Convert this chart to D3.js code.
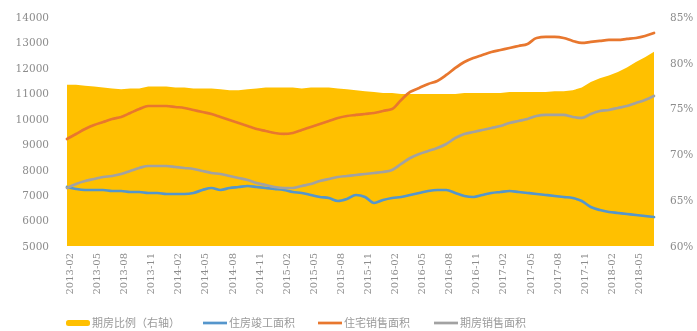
<!DOCTYPE html>
<html>
<head>
<meta charset="utf-8">
<script src="https://cdn.jsdelivr.net/npm/d3@7"></script>
<style>
  html, body { margin: 0; padding: 0; background: #fff; }
  svg { display: block; }
</style>
</head>
<body>
<svg id="chart" width="697" height="331"></svg>
<script>
// Monthly series, 2013-02 through 2018-07
const startMonth = new Date(Date.UTC(2013, 1, 1));
const endMonth = new Date(Date.UTC(2018, 7, 1));
const months = d3.utcMonth.range(startMonth, endMonth).map(d3.utcFormat("%Y-%m"));

const tickLabels = [
  "2013-02","2013-05","2013-08","2013-11","2014-02","2014-05","2014-08","2014-11",
  "2015-02","2015-05","2015-08","2015-11","2016-02","2016-05","2016-08","2016-11",
  "2017-02","2017-05","2017-08","2017-11","2018-02","2018-05"
];

// 期房比例 (%) — right axis
const futuresShare = [
  77.6,77.6,77.5,77.4,77.3,77.2,77.1,77.2,77.2,77.4,
  77.4,77.4,77.3,77.3,77.2,77.2,77.2,77.1,77.0,77.0,
  77.1,77.2,77.3,77.3,77.3,77.3,77.2,77.3,77.3,77.3,
  77.2,77.1,77.0,76.9,76.8,76.7,76.7,76.6,76.6,76.6,
  76.6,76.6,76.6,76.6,76.7,76.7,76.7,76.7,76.7,76.8,
  76.8,76.8,76.8,76.8,76.9,76.9,77.0,77.3,77.9,78.3,
  78.6,79.0,79.5,80.1,80.6,81.2
];

// 住房竣工面积
const completedArea = [
  7319,7241,7201,7201,7201,7162,7162,7123,7123,7083,
  7083,7044,7044,7044,7083,7201,7280,7201,7280,7319,
  7359,7319,7280,7241,7201,7123,7083,7005,6926,6887,
  6769,6848,7005,6926,6690,6808,6887,6926,7005,7083,
  7162,7201,7201,7083,6966,6926,7005,7083,7123,7162,
  7123,7083,7044,7005,6966,6926,6887,6769,6533,6415,
  6337,6297,6258,6219,6179,6140
];

// 住宅销售面积
const salesArea = [
  9206,9403,9599,9757,9874,9992,10071,10228,10385,10503,
  10503,10503,10464,10425,10346,10268,10189,10071,9953,9835,
  9717,9599,9521,9442,9403,9442,9560,9678,9796,9914,
  10032,10110,10150,10189,10228,10307,10385,10739,11054,11211,
  11368,11486,11722,11997,12233,12390,12508,12626,12705,12783,
  12862,12941,13176,13216,13216,13176,13059,12980,13019,13059,
  13098,13098,13137,13176,13255,13373
];

// 期房销售面积
const futuresSales = [
  7280,7437,7555,7634,7712,7752,7830,7948,8066,8145,
  8145,8145,8105,8066,8027,7948,7870,7830,7752,7673,
  7594,7477,7398,7319,7280,7280,7359,7437,7555,7634,
  7712,7752,7791,7830,7870,7909,7988,8223,8459,8617,
  8734,8852,9010,9245,9403,9481,9560,9639,9717,9835,
  9914,9992,10110,10150,10150,10150,10071,10032,10189,10307,
  10346,10425,10503,10621,10739,10897
];

const leftTicks = [5000,6000,7000,8000,9000,10000,11000,12000,13000,14000];
const rightTicks = [60,65,70,75,80,85];

const colors = {
  share: "#FFC000",
  completed: "#5496CC",
  sales: "#E8772E",
  futures: "#A2A2A2"
};

const svg = d3.select("#chart");

// soft focus over the whole drawing
const defs = svg.append("defs");
defs.append("filter").attr("id", "soft")
  .attr("x", "-5%").attr("y", "-5%").attr("width", "110%").attr("height", "110%")
  .append("feGaussianBlur").attr("stdDeviation", 0.65);

const root = svg.append("g").attr("filter", "url(#soft)");

const x = d3.scalePoint().domain(months).range([67, 654]);
const yL = d3.scaleLinear().domain([5000, 14000]).range([246, 17]);
const yR = d3.scaleLinear().domain([60, 85]).range([246, 17]);

// share area on the right axis
root.append("path")
  .datum(futuresShare)
  .attr("fill", colors.share)
  .attr("d", d3.area()
    .x((d, i) => x(months[i]))
    .y0(yR(60))
    .y1(d => yR(d))
    .curve(d3.curveLinear));

const lineL = d3.line()
  .x((d, i) => x(months[i]))
  .y(d => yL(d))
  .curve(d3.curveMonotoneX);

[[completedArea, colors.completed], [salesArea, colors.sales], [futuresSales, colors.futures]]
  .forEach(([vals, c]) => {
    root.append("path")
      .datum(vals)
      .attr("fill", "none")
      .attr("stroke", c)
      .attr("stroke-width", 2.7)
      .attr("stroke-linejoin", "round")
      .attr("stroke-linecap", "round")
      .attr("d", lineL);
  });

const labelFont = "'DejaVu Serif', serif";
const labelColor = "#8c8c8c";

// left axis
const gL = root.append("g")
  .attr("transform", "translate(67,0)")
  .call(d3.axisLeft(yL).tickValues(leftTicks).tickSize(0).tickPadding(18).tickFormat(d3.format("d")));
gL.select(".domain").remove();
gL.selectAll("text").attr("font-family", labelFont).attr("font-size", 10.5).attr("fill", labelColor);

// right axis
const gR = root.append("g")
  .attr("transform", "translate(654,0)")
  .call(d3.axisRight(yR).tickValues(rightTicks).tickSize(0).tickPadding(16).tickFormat(d => d + "%"));
gR.select(".domain").remove();
gR.selectAll("text").attr("font-family", labelFont).attr("font-size", 10.5).attr("fill", labelColor);

// bottom axis, labels turned vertical
const gB = root.append("g")
  .attr("transform", "translate(0,246)")
  .call(d3.axisBottom(x).tickValues(tickLabels).tickSize(0).tickPadding(0));
gB.select(".domain").remove();
gB.selectAll("text")
  .attr("font-family", labelFont)
  .attr("font-size", 10)
  .attr("fill", labelColor)
  .attr("text-anchor", "end")
  .attr("transform", "translate(2,7) rotate(-90)")
  .attr("x", 0)
  .attr("y", 0)
  .attr("dy", "0.35em");

// legend
const legendItems = [
  { label: "期房比例（右轴）", color: colors.share, kind: "area", x: 66 },
  { label: "住房竣工面积", color: colors.completed, kind: "line", x: 203 },
  { label: "住宅销售面积", color: colors.sales, kind: "line", x: 318 },
  { label: "期房销售面积", color: colors.futures, kind: "line", x: 434 }
];
const legend = root.append("g").attr("transform", "translate(0,323)");
legendItems.forEach(it => {
  const g = legend.append("g").attr("transform", `translate(${it.x},0)`);
  if (it.kind === "area") {
    g.append("rect").attr("x", 0).attr("y", -3).attr("width", 24).attr("height", 6)
      .attr("rx", 2.5).attr("fill", it.color);
  } else {
    g.append("line").attr("x1", 0).attr("x2", 24).attr("y1", 0).attr("y2", 0)
      .attr("stroke", it.color).attr("stroke-width", 2.7);
  }
  g.append("text")
    .attr("x", 26)
    .attr("y", 0)
    .attr("dy", "0.35em")
    .attr("font-family", "'Noto Sans CJK SC', sans-serif")
    .attr("font-size", 11)
    .attr("fill", "#9a9a9a")
    .text(it.label);
});
</script>
</body>
</html>
